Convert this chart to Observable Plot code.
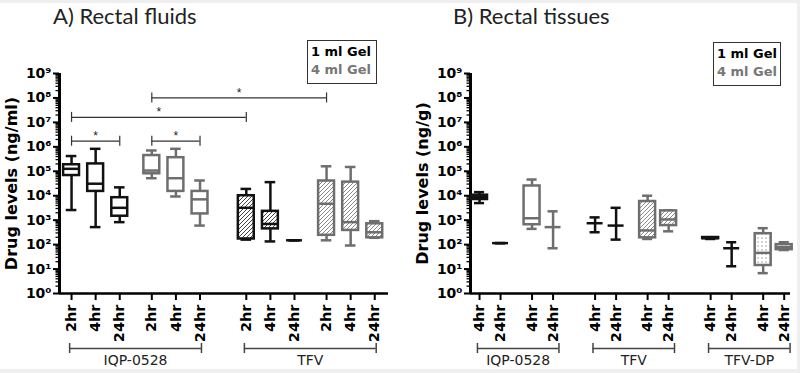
<!DOCTYPE html>
<html><head><meta charset="utf-8">
<script src="https://cdn.jsdelivr.net/npm/d3@7"></script>
<script src="https://cdn.jsdelivr.net/npm/@observablehq/plot@0.6"></script>
<style>
html,body{margin:0;padding:0;background:#efefef;}
#wrap{position:relative;width:800px;height:373px;overflow:hidden;}
#bg{position:absolute;left:0;top:3px;width:797px;height:366px;background:#fff;}
.panel{position:absolute;top:0;}
.title{position:absolute;font-family:Lato;font-size:22px;color:#222;white-space:nowrap;line-height:26px;}
.legend{position:absolute;box-sizing:border-box;border:1.5px solid #333;background:#fff;font-family:"DejaVu Sans";font-weight:bold;font-size:13px;line-height:18px;padding:2px 0 0 3px;white-space:nowrap;}
.legend .g1{color:#000;} .legend .g4{color:#777;}
svg text{-webkit-font-smoothing:antialiased;}
</style></head>
<body>
<svg width="0" height="0" style="position:absolute">
  <defs>
    <pattern id="hatchDark" patternUnits="userSpaceOnUse" width="4" height="4">
      <rect width="4" height="4" fill="white"/>
      <path d="M-1,1 l2,-2 M0,4 l4,-4 M3,5 l2,-2" stroke="#444" stroke-width="1"/>
    </pattern>
    <pattern id="hatchGray" patternUnits="userSpaceOnUse" width="4" height="4">
      <rect width="4" height="4" fill="white"/>
      <path d="M-1,1 l2,-2 M0,4 l4,-4 M3,5 l2,-2" stroke="#8a8a8a" stroke-width="1"/>
    </pattern>
    <pattern id="dotsGray" patternUnits="userSpaceOnUse" width="4" height="4">
      <rect width="4" height="4" fill="white"/>
      <circle cx="2" cy="2" r="0.7" fill="#888"/>
    </pattern>
  </defs>
</svg>
<div id="wrap">
  <div id="bg"></div>
  <div id="left" class="panel" style="left:0"></div>
  <div id="right" class="panel" style="left:400px"></div>
  <div class="title" style="left:53px;top:3px">A) Rectal fluids</div>
  <div class="title" style="left:453px;top:3px">B) Rectal tissues</div>
  <div class="legend" style="left:307px;top:40px;width:70px;height:44px"><div class="g1">1 ml Gel</div><div class="g4">4 ml Gel</div></div>
  <div class="legend" style="left:713px;top:42px;width:68px;height:44px"><div class="g1">1 ml Gel</div><div class="g4">4 ml Gel</div></div>
</div>
<script>
// ---------- A) Rectal fluids ----------
const fluidDrugs = ["IQP-0528", "TFV"];
const fluidGels = ["1 ml", "4 ml"];
const fluidTimes = ["2hr", "4hr", "24hr"];
const fluidDrug = ["IQP-0528","IQP-0528","IQP-0528","IQP-0528","IQP-0528","IQP-0528","TFV","TFV","TFV","TFV","TFV","TFV"];
const fluidGel  = ["1 ml","1 ml","1 ml","4 ml","4 ml","4 ml","1 ml","1 ml","1 ml","4 ml","4 ml","4 ml"];
const fluidTime = ["2hr","4hr","24hr","2hr","4hr","24hr","2hr","4hr","24hr","2hr","4hr","24hr"];
const fluidMin = [2.6e3, 5.2e2, 8.3e2, 5.2e4, 9.3e3, 6.0e2, 1.6e2, 1.35e2, 1.5e2, 1.5e2, 92, 1.9e2];
const fluidQ1  = [6.7e4, 1.5e4, 1.45e3, 7.9e4, 1.5e4, 1.8e3, 1.7e2, 4.4e2, 1.5e2, 2.4e2, 3.8e2, 1.9e2];
const fluidMed = [1.26e5, 3.1e4, 3.2e3, 1.07e5, 5.2e4, 7.1e3, 3.2e3, 7.0e2, 1.5e2, 4.7e3, 8.3e2, 3.2e2];
const fluidQ3  = [1.85e5, 2.0e5, 8.3e3, 4.4e5, 3.6e5, 1.5e4, 1.0e4, 2.3e3, 1.5e2, 4.0e4, 3.6e4, 7.1e2];
const fluidMax = [4.2e5, 8.3e5, 2.2e4, 7.1e5, 8.3e5, 4.2e4, 1.9e4, 3.6e4, 1.5e2, 1.6e5, 1.5e5, 9.1e2];
// significance brackets: [drug, gel, time] from / to, bracket level
const sigFrom  = [["IQP-0528","4 ml","2hr"], ["IQP-0528","1 ml","2hr"], ["IQP-0528","1 ml","2hr"], ["IQP-0528","4 ml","2hr"]];
const sigTo    = [["TFV","4 ml","2hr"], ["TFV","1 ml","2hr"], ["IQP-0528","1 ml","24hr"], ["IQP-0528","4 ml","24hr"]];
const sigLevel = [1e8, 1.6e7, 1.7e6, 1.7e6];

// ---------- B) Rectal tissues ----------
const tissueDrugs = ["IQP-0528", "TFV", "TFV-DP"];
const tissueGels = ["1 ml", "4 ml"];
const tissueTimes = ["4hr", "24hr"];
const tissueDrug = ["IQP-0528","IQP-0528","IQP-0528","IQP-0528","TFV","TFV","TFV","TFV","TFV-DP","TFV-DP","TFV-DP","TFV-DP"];
const tissueGel  = ["1 ml","1 ml","4 ml","4 ml","1 ml","1 ml","4 ml","4 ml","1 ml","1 ml","4 ml","4 ml"];
const tissueTime = ["4hr","24hr","4hr","24hr","4hr","24hr","4hr","24hr","4hr","24hr","4hr","24hr"];
const tissueMin = [5.0e3, 1.15e2, 4.4e2, 71, 3.2e2, 1.6e2, 1.7e2, 3.5e2, 1.7e2, 13, 6.8, 60];
const tissueQ1  = [7.0e3, 1.15e2, 6.5e2, 5.2e2, 7.5e2, 6.0e2, 1.9e2, 6.0e2, 1.75e2, 71, 14, 62];
const tissueMed = [9.0e3, 1.15e2, 1.2e3, 5.2e2, 7.5e2, 6.0e2, 3.8e2, 1.07e3, 1.85e2, 71, 46, 78];
const tissueQ3  = [1.05e4, 1.15e2, 2.5e4, 5.2e2, 7.5e2, 6.0e2, 5.8e3, 2.4e3, 1.95e2, 71, 2.8e2, 1.0e2];
const tissueMax = [1.4e4, 1.15e2, 4.6e4, 2.3e3, 1.3e3, 3.2e3, 1.0e4, 2.5e3, 2.0e2, 1.25e2, 4.7e2, 1.25e2];

// axis tick labels
const decadeTicks = [1, 10, 1e2, 1e3, 1e4, 1e5, 1e6, 1e7, 1e8, 1e9];
const supDigits = ["⁰","¹","²","³","⁴","⁵","⁶","⁷","⁸","⁹"];

const BLACK = "#111", GRAY = "#6e6e6e";
const minorTicks = [];
for (let k = 0; k < 9; k++) for (let m = 2; m < 10; m++) minorTicks.push(m * 10 ** k);

function buildRows(drug, gel, time, mn, q1, md, q3, mx, drugs, gels, times, drugStep, gelStep) {
  return drug.map((d, i) => ({
    drug: d, gel: gel[i], time: time[i],
    min: mn[i], q1: q1[i], med: md[i], q3: q3[i], max: mx[i],
    pos: drugs.indexOf(d) * drugStep + gels.indexOf(gel[i]) * gelStep + times.indexOf(time[i])
  }));
}

function panel(cfg) {
  const {rows, fill, xDomain, marginLeft, marginRight, boxHw, capHw, yLabel, groupPad, drugs} = cfg;
  const color = d => d.gel === "1 ml" ? BLACK : GRAY;
  const labelMap = new Map(rows.map(d => [d.pos, d.time]));
  const groups = drugs.map(dr => {
    const ps = rows.filter(d => d.drug === dr).map(d => d.pos);
    return {drug: dr, a: d3.min(ps) - groupPad[0], b: d3.max(ps) + groupPad[1]};
  });
  const groupEnds = groups.flatMap(g => [{x: g.a}, {x: g.b}]);
  const sig = cfg.sig || [];
  const sigEnds = sig.flatMap(s => [{x: s.a, y: s.y}, {x: s.b, y: s.y}]);
  const sw = 2.5;
  return Plot.plot({
    width: 400, height: 373,
    marginLeft, marginRight, marginTop: 73, marginBottom: 80,
    style: {fontFamily: "DejaVu Sans", color: "#000", background: "transparent", overflow: "visible"},
    x: {type: "linear", domain: xDomain, axis: null},
    y: {type: "log", domain: [1, 1e9], axis: null},
    marks: [
      // axes
      Plot.axisY({ticks: minorTicks, tickSize: 3.5, tickFormat: () => "", strokeWidth: 1.3, label: null}),
      Plot.axisY({ticks: decadeTicks, tickSize: 6, tickPadding: 2, strokeWidth: 2,
        tickFormat: v => "10" + supDigits[Math.round(Math.log10(v))],
        fontSize: 14, fontWeight: "bold", label: null}),
      Plot.axisX({ticks: rows.map(d => d.pos), tickFormat: p => labelMap.get(p), tickRotate: -90,
        tickSize: 7, tickPadding: 4, strokeWidth: 2, fontSize: 14.5, fontWeight: "bold", label: null}),
      Plot.ruleX([xDomain[0]], {stroke: "#000", strokeWidth: 3}),
      Plot.ruleY([1], {stroke: "#000", strokeWidth: 2.5}),
      Plot.text([yLabel], {text: d => d, frameAnchor: "left", textAnchor: "middle", rotate: -90, dx: -48,
        fontSize: 16, fontWeight: "bold"}),
      // whiskers
      Plot.ruleX(rows, {x: "pos", y1: "min", y2: "q1", stroke: color, strokeWidth: sw}),
      Plot.ruleX(rows, {x: "pos", y1: "q3", y2: "max", stroke: color, strokeWidth: sw}),
      Plot.ruleY(rows, {x1: d => d.pos - capHw, x2: d => d.pos + capHw, y: "min", stroke: color, strokeWidth: sw}),
      Plot.ruleY(rows, {x1: d => d.pos - capHw, x2: d => d.pos + capHw, y: "max", stroke: color, strokeWidth: sw}),
      // boxes
      Plot.rect(rows, {x1: d => d.pos - boxHw, x2: d => d.pos + boxHw, y1: "q1", y2: "q3",
        fill, stroke: color, strokeWidth: sw}),
      Plot.ruleY(rows, {x1: d => d.pos - boxHw, x2: d => d.pos + boxHw, y: "med", stroke: color, strokeWidth: sw}),
      // significance brackets
      Plot.ruleY(sig, {x1: "a", x2: "b", y: "y", stroke: "#333", strokeWidth: 1.2}),
      Plot.ruleX(sigEnds, {x: "x", y1: "y", y2: "y", insetTop: -5, insetBottom: -5, stroke: "#333", strokeWidth: 1.2}),
      Plot.text(sig, {x: d => (d.a + d.b) / 2, y: "y", text: () => "*", dy: -5, fontSize: 12,
        fontFamily: "Liberation Sans", fill: "#222"}),
      // drug group brackets under the axis
      Plot.ruleY(groups, {x1: "a", x2: "b", y: () => 1, dy: 55, stroke: "#444", strokeWidth: 1.5}),
      Plot.ruleX(groupEnds, {x: "x", y1: () => 1, y2: () => 1, insetTop: -5, insetBottom: -5, dy: 55, stroke: "#444", strokeWidth: 1.5}),
      Plot.text(groups, {x: d => (d.a + d.b) / 2, y: () => 1, dy: 67, text: "drug", fontSize: 14, fill: "#222"})
    ]
  });
}

const fluidRows = buildRows(fluidDrug, fluidGel, fluidTime, fluidMin, fluidQ1, fluidMed, fluidQ3, fluidMax,
  fluidDrugs, fluidGels, fluidTimes, 7.25, 3.33);
const fluidPos = key => fluidRows.find(d => d.drug === key[0] && d.gel === key[1] && d.time === key[2]).pos;
const fluidSig = sigLevel.map((y, i) => ({a: fluidPos(sigFrom[i]), b: fluidPos(sigTo[i]), y}));

const tissueRows = buildRows(tissueDrug, tissueGel, tissueTime, tissueMin, tissueQ1, tissueMed, tissueQ3, tissueMax,
  tissueDrugs, tissueGels, tissueTimes, 5.5, 2.5);

document.getElementById("left").append(panel({
  rows: fluidRows,
  fill: d => d.drug === "TFV" ? (d.gel === "1 ml" ? "url(#hatchDark)" : "url(#hatchGray)") : "white",
  xDomain: [-0.5, 13.15], marginLeft: 59, marginRight: 12,
  boxHw: 0.33, capHw: 0.22, yLabel: "Drug levels (ng/ml)",
  groupPad: [0.08, 0.06], drugs: fluidDrugs, sig: fluidSig
}));

document.getElementById("right").append(panel({
  rows: tissueRows,
  fill: d => d.gel === "4 ml" && d.drug === "TFV" ? "url(#hatchGray)"
           : d.gel === "4 ml" && d.drug === "TFV-DP" ? "url(#dotsGray)" : "white",
  xDomain: [-0.43, 14.8], marginLeft: 70, marginRight: 10,
  boxHw: 0.38, capHw: 0.24, yLabel: "Drug levels (ng/g)",
  groupPad: [0.1, 0.28], drugs: tissueDrugs
}));
</script>
</body></html>
